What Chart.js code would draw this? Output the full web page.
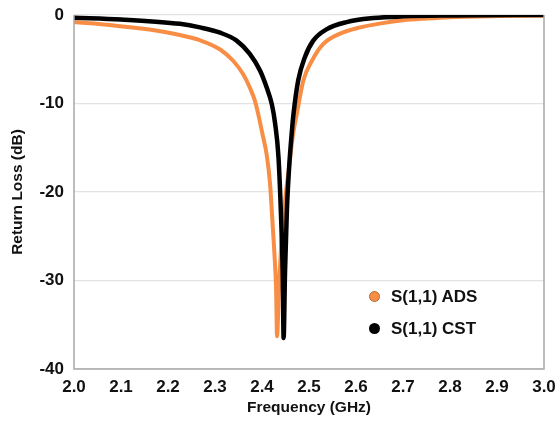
<!DOCTYPE html>
<html>
<head>
<meta charset="utf-8">
<script src="https://cdn.jsdelivr.net/npm/chart.js@4/dist/chart.umd.min.js"></script>
<style>
  html, body { margin: 0; padding: 0; background: #fff; }
  #wrap { position: relative; width: 558px; height: 421px; }
  .legend { position: absolute; left: 369px; font: bold 17px "Liberation Sans", Arial, sans-serif; color: #111; line-height: 20px; }
  .legend span { display: inline-block; width: 11px; height: 11px; border-radius: 50%; margin-right: 11px; vertical-align: 0px; box-sizing: border-box; }
</style>
</head>
<body>
<div id="wrap">
  <canvas id="chart" width="558" height="421"></canvas>
  <div class="legend" style="top:287px"><span style="background:#F88D45;border:1px solid #b86a35"></span>S(1,1) ADS</div>
  <div class="legend" style="top:319px"><span style="background:#000"></span>S(1,1) CST</div>
</div>
<script>
// S(1,1) ADS - frequency (GHz) / return loss (dB)
const adsFreq = [2.00, 2.08, 2.16, 2.22, 2.268, 2.311, 2.339, 2.36, 2.374, 2.385, 2.392, 2.40, 2.41, 2.417, 2.423, 2.427, 2.430, 2.432, 2.436, 2.441, 2.449, 2.458, 2.466, 2.474, 2.488, 2.506, 2.53, 2.566, 2.609, 2.647, 2.70, 2.75, 2.80, 2.90, 3.00];
const adsLoss = [-0.8, -1.15, -1.65, -2.2, -2.85, -3.9, -5.2, -6.7, -8.2, -9.7, -11.2, -13.2, -15.8, -19.0, -24.0, -27.5, -31.0, -36.3, -31.0, -26.0, -21.0, -17.0, -13.5, -11.2, -7.4, -5.2, -3.3, -2.1, -1.4, -1.0, -0.6, -0.4, -0.25, -0.12, -0.05];

// S(1,1) CST
const cstFreq = [2.00, 2.10, 2.2255, 2.268, 2.311, 2.346, 2.374, 2.396, 2.41, 2.421, 2.428, 2.435, 2.44, 2.444, 2.446, 2.449, 2.453, 2.458, 2.463, 2.467, 2.477, 2.491, 2.509, 2.538, 2.58, 2.637, 2.70, 2.80, 3.00];
const cstLoss = [-0.3, -0.5, -1.0, -1.4, -2.0, -2.9, -4.4, -6.3, -8.2, -10.1, -12.3, -16.0, -22.0, -29.0, -36.5, -29.0, -22.0, -17.0, -13.5, -11.2, -7.4, -4.8, -2.9, -1.6, -0.8, -0.35, -0.15, -0.05, 0];

const xTicks = ['2.0', '2.1', '2.2', '2.3', '2.4', '2.5', '2.6', '2.7', '2.8', '2.9', '3.0'];

function toPoints(xs, ys) {
  return xs.map((x, i) => ({ x: x, y: ys[i] }));
}

// grey frame round the plot area
const framePlugin = {
  id: 'frame',
  afterDraw(chart) {
    const { ctx, chartArea: a } = chart;
    ctx.save();
    ctx.strokeStyle = '#a8a8a8';
    ctx.lineWidth = 1.5;
    ctx.beginPath();
    ctx.moveTo(a.left, a.top);
    ctx.lineTo(a.left, a.bottom);
    ctx.lineTo(a.right, a.bottom);
    ctx.lineTo(a.right, a.top);
    ctx.stroke();
    ctx.restore();
  }
};

const font = { family: '"Liberation Sans", Arial, sans-serif', weight: 'bold' };

new Chart(document.getElementById('chart'), {
  type: 'line',
  data: {
    datasets: [
      {
        label: 'S(1,1) CST',
        data: toPoints(cstFreq, cstLoss),
        borderColor: '#000',
        borderWidth: 4.5,
        pointRadius: 0,
        cubicInterpolationMode: 'monotone',
        order: 0
      },
      {
        label: 'S(1,1) ADS',
        data: toPoints(adsFreq, adsLoss),
        borderColor: '#F88D45',
        borderWidth: 4,
        pointRadius: 0,
        cubicInterpolationMode: 'monotone',
        order: 1
      }
    ]
  },
  options: {
    responsive: false,
    animation: false,
    layout: { padding: { top: 15, right: 14, left: 0, bottom: 0 } },
    plugins: { legend: { display: false }, tooltip: { enabled: false } },
    scales: {
      x: {
        type: 'linear',
        min: 2, max: 3,
        afterFit: (s) => { s.height = 52; },
        grid: { display: false },
        border: { display: false },
        ticks: {
          stepSize: 0.1,
          padding: 0,
          color: '#111',
          font: { ...font, size: 17 },
          maxRotation: 0,
          callback: (v) => xTicks[Math.round((v - 2) * 10)]
        },
        title: { display: true, text: 'Frequency (GHz)', color: '#111', font: { ...font, size: 15.5 }, padding: { top: 4 } }
      },
      y: {
        min: -40, max: 0,
        afterFit: (s) => { s.width = 74; s.paddingTop = 0; s.paddingBottom = 0; },
        grid: { color: '#e2e2e2', lineWidth: 1.2, drawTicks: false },
        border: { display: false },
        ticks: {
          stepSize: 10,
          padding: 10,
          color: '#111',
          font: { ...font, size: 17 }
        },
        title: { display: true, text: 'Return Loss (dB)', color: '#111', font: { ...font, size: 15.5 }, padding: { top: 8, bottom: 0 } }
      }
    }
  },
  plugins: [framePlugin]
});
</script>
</body>
</html>
